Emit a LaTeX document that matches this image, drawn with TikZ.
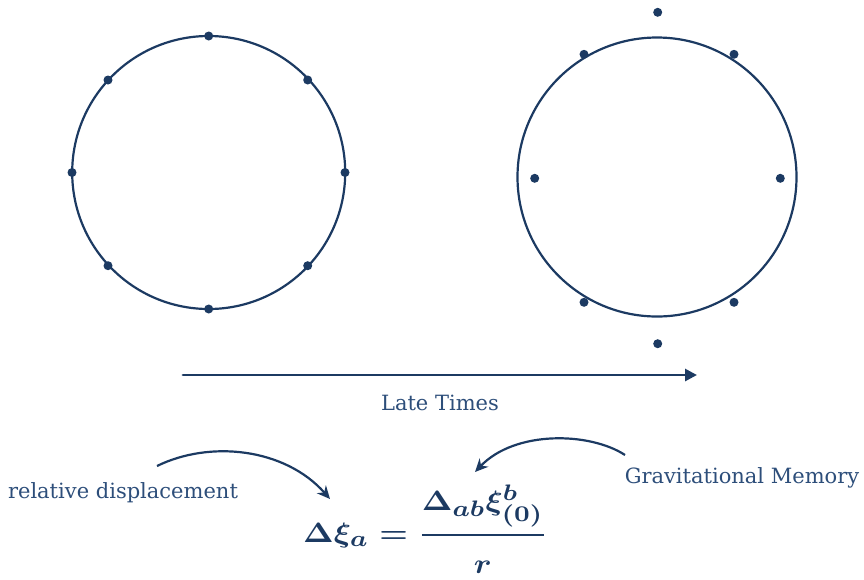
\documentclass[tikz,border=0pt]{standalone}
\usepackage{amsmath}
\usepackage{fontspec}
\setmainfont{DejaVu Serif}
\DeclareMathSizes{10}{10}{8}{6}
\usetikzlibrary{arrows.meta}
\definecolor{ink}{RGB}{28,58,98}
\definecolor{txt}{RGB}{45,78,122}
\begin{document}
\begin{tikzpicture}[x=1pt,y=-1pt,
  ring/.style={draw=ink,line width=2.2pt,circle,inner sep=0pt},
  dot/.style={fill=ink,circle,inner sep=0pt,minimum size=9pt},
  lbl/.style={text=txt,inner sep=0pt,anchor=base,font=\fontsize{21}{25}\selectfont},
  curv/.style={draw=ink,line width=2.2pt,-{Stealth[length=13pt,width=12pt]}},
  timeline/.style={draw=ink,line width=2.8pt,line cap=round,-{Triangle[length=12pt,width=12pt]}}]
\useasboundingbox (0,0) rectangle (864,579);
% left circle
\node[ring,minimum size=273pt] (c1) at (208.7,172.5) {};
\node[dot] (l1) at (208.7,36) {};
\node[dot] (l2) at (307.7,80) {};
\node[dot] (l3) at (345,172.5) {};
\node[dot] (l4) at (307.7,265.7) {};
\node[dot] (l5) at (208.7,309) {};
\node[dot] (l6) at (108,265.7) {};
\node[dot] (l7) at (72,172.5) {};
\node[dot] (l8) at (108,80) {};
% right circle
\node[ring,minimum size=279pt] (c2) at (657,177) {};
\node[dot] (r1) at (657.7,12.3) {};
\node[dot] (r2) at (734,54.3) {};
\node[dot] (r3) at (780.3,178.3) {};
\node[dot] (r4) at (734,302.3) {};
\node[dot] (r5) at (657.7,343.7) {};
\node[dot] (r6) at (584,302.3) {};
\node[dot] (r7) at (534.7,178.3) {};
\node[dot] (r8) at (584,54.3) {};
% timeline
\coordinate (t0) at (183,375);
\coordinate (t1) at (697,375);
\draw[timeline] (t0) -- (t1);
\node[lbl] (late) at (440,410) {Late Times};
% labels
\node[lbl] (rel) at (123,498) {relative displacement};
\node[lbl] (grav) at (742,483) {Gravitational Memory};
% equation
\node[text=ink,inner sep=0pt,anchor=base west] (eq) at (303,542)
  {\scalebox{3.2}[2.8]{\boldmath$\displaystyle \Delta\xi_a = \genfrac{}{}{0.8pt}{0}{\Delta_{ab}\xi^{b}_{(0)}\rule[-4.2pt]{0pt}{0pt}}{\rule{0pt}{10.8pt}r}$}};
% curved arrows
\coordinate (s1) at (157,466);
\coordinate (e1) at (330,499);
\draw[curv] (s1) .. controls (210,440) and (285,448) .. (e1);
\coordinate (s2) at (625,455);
\coordinate (e2) at (475,472);
\draw[curv] (s2) .. controls (590,432) and (515,430) .. (e2);
\end{tikzpicture}
\end{document}
